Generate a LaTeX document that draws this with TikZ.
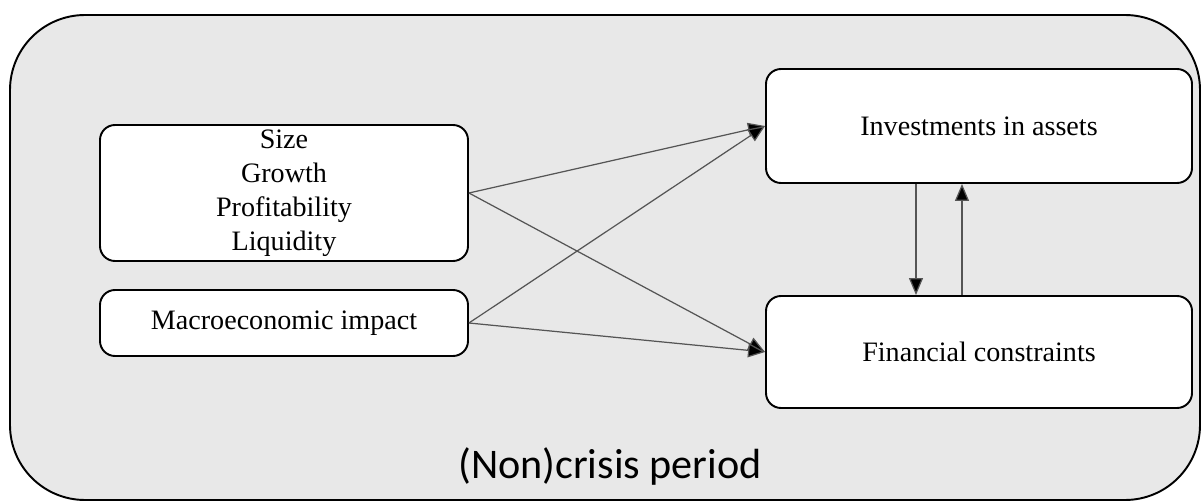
\documentclass[tikz,border=0pt]{standalone}
\usepackage{fontspec}
\setmainfont{Liberation Serif}
\newfontfamily\labelfont{Carlito}
\usepackage{xcolor}
\usetikzlibrary{arrows.meta,positioning}
\definecolor{panelgray}{HTML}{E8E8E8}
\definecolor{linegray}{HTML}{555555}
\tikzset{
    every picture/.style={line join=round},
    panel/.style={draw=black,fill=panelgray,line width=1.1pt,rounded corners=1.5cm},
    factorbox/.style={draw=black,fill=white,line width=1.1pt,rounded corners=3mm,
      inner sep=2pt,align=center,font=\fontsize{16}{19.3}\selectfont},
    flowarrow/.style={-{Triangle[length=3.4mm,width=2.8mm,fill=black]},draw=linegray,
      line width=0.7pt}
}
\begin{document}
\begin{tikzpicture}
  \useasboundingbox (0,0) rectangle (24.06,-10.02);
  \draw[panel] (0.2,-0.3) rectangle (24.0,-10.0);
  % left side factors
  \node[factorbox,minimum width=7.36cm,minimum height=2.72cm] (firm)
    at (5.68,-3.86) {Size\\Growth\\Profitability\\Liquidity};
  \node[factorbox,minimum width=7.36cm,minimum height=1.32cm] (macro)
    at (5.68,-6.46) {Macroeconomic impact};
  % right side outcomes
  \node[factorbox,minimum width=8.52cm,minimum height=2.28cm] (invest)
    at (19.58,-2.52) {Investments in assets};
  \node[factorbox,minimum width=8.52cm,minimum height=2.24cm] (constr)
    at (19.58,-7.04) {Financial constraints};
  \draw[flowarrow] (firm.east)--(invest.west);
  \draw[flowarrow] (firm.east)--(constr.west);
  \draw[flowarrow] (macro.east)--(invest.west);
  \draw[flowarrow] (macro.east)--(constr.west);
  \draw[flowarrow] ([xshift=-12.6mm]invest.south)--([xshift=-12.6mm]constr.north);
  \draw[flowarrow] ([xshift=-3.4mm]constr.north)--([xshift=-3.4mm]invest.south);
  \node[font=\labelfont\fontsize{24}{28}\selectfont] (period) at (12.2,-9.32) {(Non)crisis period};
\end{tikzpicture}
\end{document}
